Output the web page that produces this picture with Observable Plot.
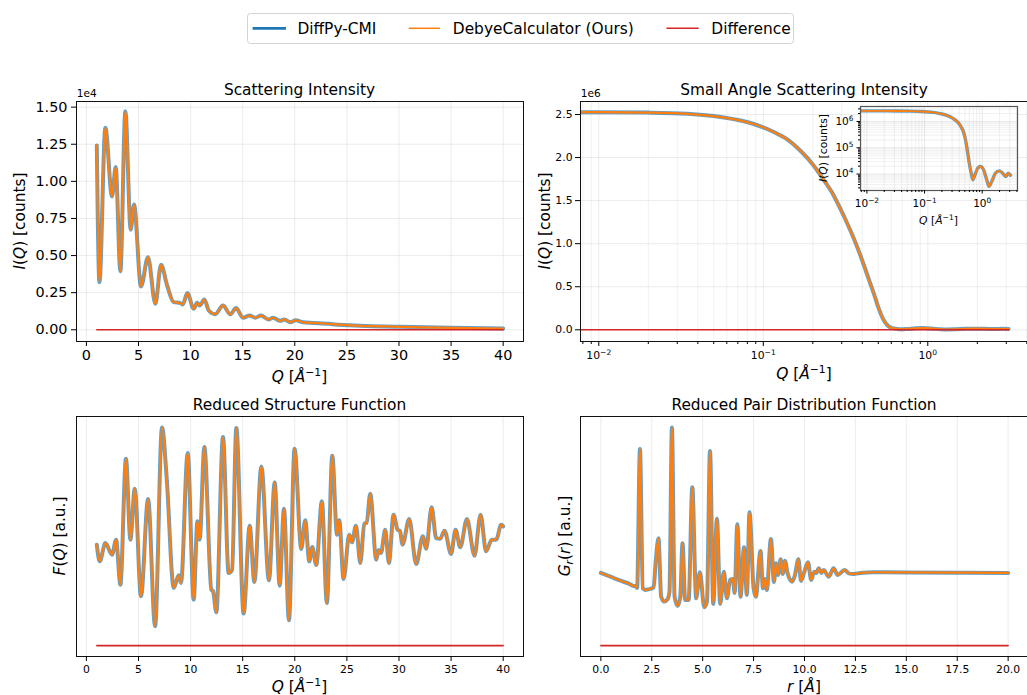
<!DOCTYPE html>
<html><head><meta charset="utf-8">
<script src="https://cdn.jsdelivr.net/npm/d3@7"></script>
<script src="https://cdn.jsdelivr.net/npm/@observablehq/plot@0.6"></script>
<style>
html,body{margin:0;padding:0;overflow:hidden;background:#fff;}
#root{position:relative;width:1027px;height:695px;overflow:hidden;background:#fff;}
#root svg{position:absolute;}
</style></head>
<body><div id="root"></div>
<script>
// ---------- DATA ----------
// Scattering intensity I(Q) [counts]
const iqQ = [1.0,1.25,1.82,2.46,2.81,3.26,3.74,4.25,4.57,5.24,5.91,6.62,7.16,7.74,8.38,9.02,9.25,9.69,10.3,10.62,10.87,11.32,11.74,12.37,13.11,13.81,14.36,15.03,15.67,16.21,16.76,17.49,17.9,18.61,19.0,19.57,20.1,20.8,21.8,22.6,23.3,23.9,25.3,27.5,30.1,35,40];
const iqI = [12420,3210,13610,8980,10960,3950,14730,6740,8440,2920,4890,1750,4380,3000,1860,1800,1700,2470,1410,1820,1630,2040,1300,1050,1640,1040,1460,810,960,810,960,690,810,600,700,510,640,500,460,430,400,360,300,240,200,130,80];
const iqDiffQ = [1, 10, 20, 30, 40];
const iqDiffI = [0, 0, 0, 0, 0];

// Small angle scattering intensity
const sasQ = [0.0077,0.01,0.02,0.0344,0.055,0.0875,0.115,0.14,0.17,0.2,0.235,0.268,0.295,0.323,0.355,0.39,0.43,0.47,0.505,0.54,0.57,0.6,0.65,0.69,0.75,0.85,0.93,1.05,1.2,1.31,1.45,1.7,1.96,2.25,2.56,2.81,3.1];
const sasI = [2.527e6,2.527e6,2.522e6,2.508e6,2.47e6,2.39e6,2.3e6,2.21e6,2.07e6,1.92e6,1.73e6,1.56e6,1.4e6,1.24e6,1.06e6,0.86e6,0.63e6,0.42e6,0.24e6,0.11e6,0.05e6,2.4e4,1.0e4,6.1e3,9.5e3,1.75e4,1.95e4,1.5e4,6.0e3,3.4e3,5.0e3,1.1e4,1.33e4,1.1e4,8.1e3,1.07e4,9.0e3];
const sasDiffQ = [0.0077, 0.1, 1, 3.1];
const sasDiffI = [0, 0, 0, 0];

// Reduced structure function F(Q) [a.u.]
const fqQ = [1.0,1.28,1.82,2.46,2.85,3.26,3.8,4.22,4.64,5.24,5.92,6.59,7.26,7.7,8.38,8.86,9.08,9.72,10.3,10.65,10.87,11.32,11.99,12.15,12.47,13.11,13.65,13.98,14.39,15.09,15.67,16.12,16.79,17.52,18.07,18.55,18.96,19.44,19.98,20.62,21.0,21.39,21.68,22.06,22.6,23.08,23.6,24.05,24.27,24.68,25.23,25.48,25.87,26.29,26.67,26.9,27.24,27.82,28.04,28.27,28.68,29.03,29.48,29.86,30.1,30.34,30.98,31.65,32.29,32.61,33.13,33.57,33.96,34.37,35.0,35.43,35.88,36.52,37.25,37.83,38.36,38.9,39.33,39.81,40.0];
const fqF = [0.24,-1.43,0.4,-0.76,0.74,-3.76,8.84,0.74,5.84,-4.93,4.8,-7.93,11.97,7.0,-4.1,-2.83,-3.6,9.4,-5.26,2.57,0.74,10.0,-4.26,-4.4,-6.53,11.0,-2.6,-2.3,11.9,-6.66,2.14,-3.5,8.07,-3.33,6.47,-3.86,3.84,-7.33,9.84,-0.2,2.67,-1.43,0.0,-1.8,4.57,-5.6,9.14,1.24,2.67,-3.2,1.24,0.47,2.14,-1.6,2.34,2.4,5.34,-1.26,-0.3,-0.6,1.74,-1.6,3.24,1.74,1.6,0.24,2.8,-1.7,1.07,-0.17,3.97,0.9,0.84,1.64,-0.7,1.74,-0.03,2.8,-0.86,3.24,-0.43,0.74,0.74,2.24,2.07];
const fqDiffQ = [1, 10, 20, 30, 40];
const fqDiffF = [-9.86, -9.86, -9.86, -9.86, -9.86];

// Reduced pair distribution function G_r(r) [a.u.]
const grR = [0,0.5,1.0,1.4,1.6,1.69,1.78,1.92,2.06,2.18,2.34,2.59,2.7,2.83,2.96,3.11,3.27,3.37,3.49,3.62,3.77,3.9,4.01,4.14,4.31,4.49,4.68,4.86,5.08,5.21,5.36,5.52,5.7,5.86,6.04,6.19,6.35,6.48,6.57,6.7,6.86,7.03,7.17,7.3,7.5,7.61,7.84,7.96,8.06,8.15,8.35,8.5,8.6,8.7,8.83,8.93,9.04,9.17,9.39,9.52,9.7,9.83,9.99,10.17,10.33,10.48,10.58,10.7,10.83,10.94,11.19,11.43,11.63,11.97,12.17,12.42,12.75,13.4,15,17.5,20];
const grG = [0,-0.4,-0.8,-1.1,-1.3,-1.3,-1.5,12.4,-1.54,-1.7,-1.64,-1.44,1.3,3.46,-2.37,-2.87,-2.64,-1.9,14.56,-2.37,-3.3,-2.37,2.96,-2.7,-2.7,8.56,-2.54,0.06,-3.44,-2.87,12.2,-3.1,5.43,-3.1,0.13,-2.54,-0.7,-0.6,-2.0,4.86,-2.37,2.56,-2.2,6.06,-1.54,-2.37,2.2,-1.54,-0.6,-1.7,3.4,-0.9,0.97,-0.2,1.36,-0.1,1.23,-0.04,-0.87,-0.3,1.36,-0.8,0.1,1.06,-0.7,0.13,0.0,0.46,0.0,0.3,-0.37,0.46,-0.2,0.3,-0.04,-0.1,0,0.07,0.05,0.03,0.0];
const grDiffR = [0, 5, 10, 15, 20];
const grDiffG = [-7.27, -7.27, -7.27, -7.27, -7.27];

// ticks
const iqTicksX = [0,5,10,15,20,25,30,35,40];
const iqTicksY = [0,2500,5000,7500,10000,12500,15000];
const sasTicksY = [0,0.5e6,1.0e6,1.5e6,2.0e6,2.5e6];
const logMajorX = [0.01,0.1,1];
const logMajorXLabels = ["10^−2","10^−1","10^0"];
const logMinorX = [0.008,0.009,0.02,0.03,0.04,0.05,0.06,0.07,0.08,0.09,0.2,0.3,0.4,0.5,0.6,0.7,0.8,0.9,2,3,4];
const insetMajorY = [1e4,1e5,1e6];
const insetMajorYLabels = ["10^4","10^5","10^6"];
const insetMinorY = [3e3,4e3,5e3,6e3,7e3,8e3,9e3,2e4,3e4,4e4,5e4,6e4,7e4,8e4,9e4,2e5,3e5,4e5,5e5,6e5,7e5,8e5,9e5,2e6,3e6];
const grTicksX = [0,2.5,5,7.5,10,12.5,15,17.5,20];
const seriesNames = ["DiffPy-CMI","DebyeCalculator (Ours)","Difference"];

// ---------- helpers ----------
const FS = "DejaVu Sans";
const BLUE = "#1f77b4", ORANGE = "#ff7f0e", RED = "#d62728";
const root = document.getElementById("root");
const tbl = (xs, ys) => xs.map((x, i) => ({x, y: ys[i]}));
const grid = (vals, op = 0.3) => [vals, {stroke: "#b0b0b0", strokeOpacity: op, strokeWidth: 0.8}];

function seriesMarks(data, diff, bw = 4, ow = 2.2) {
  const m = [
    Plot.line(data, {x: "x", y: "y", stroke: BLUE, strokeOpacity: 0.7, strokeWidth: bw, curve: "monotone-x", clip: true}),
    Plot.line(data, {x: "x", y: "y", stroke: ORANGE, strokeWidth: ow, curve: "monotone-x", clip: true})
  ];
  if (diff) m.push(Plot.line(diff, {x: "x", y: "y", stroke: RED, strokeWidth: 1.6, clip: true}));
  return m;
}
function supify(svg) {
  d3.select(svg).selectAll("text").each(function() {
    const t = this.textContent; const i = t.indexOf("^");
    if (i < 0) return;
    const s = d3.select(this);
    s.text(t.slice(0, i));
    s.append("tspan").attr("font-size", "0.7em").attr("dy", "-0.55em").text(t.slice(i + 1));
  });
}
function place(svg, left, top) {
  svg.style.left = left + "px"; svg.style.top = top + "px";
  svg.style.maxWidth = "none";
  root.appendChild(svg);
}
const baseStyle = (fs) => ({fontFamily: FS, fontSize: fs + "px", background: "none", overflow: "visible", color: "#000"});

// ---------- Panel 1: Scattering Intensity ----------
const p1 = Plot.plot({
  width: 530, height: 315, marginLeft: 76, marginRight: 7, marginTop: 26, marginBottom: 49,
  style: baseStyle(14.4),
  x: {domain: [-0.95, 41.95], label: null},
  y: {domain: [-790, 15380], label: null},
  marks: [
    Plot.gridX(...grid(iqTicksX)),
    Plot.gridY(...grid(iqTicksY)),
    ...seriesMarks(tbl(iqQ, iqI), tbl(iqDiffQ, iqDiffI)),
    Plot.frame({stroke: "#111", strokeWidth: 1}),
    Plot.axisX(iqTicksX, {tickSize: 5, tickPadding: 3, fontSize: 14.4, label: null, tickFormat: d => String(d)}),
    Plot.axisY(iqTicksY, {tickSize: 5, tickPadding: 4, fontSize: 14.4, label: null, tickFormat: d => (d / 1e4).toFixed(2)})
  ]
});
place(p1, 0, 75);

// ---------- Panel 2: Small Angle Scattering ----------
const p2 = Plot.plot({
  width: 520, height: 315, marginLeft: 60, marginRight: 12, marginTop: 26, marginBottom: 49,
  style: baseStyle(10.8),
  x: {type: "log", domain: [0.007741, 4.095], label: null},
  y: {domain: [-0.136e6, 2.651e6], label: null},
  marks: [
    Plot.gridX(...grid(logMinorX, 0.22)),
    Plot.gridX(...grid(logMajorX)),
    Plot.gridY(...grid(sasTicksY)),
    ...seriesMarks(tbl(sasQ, sasI), tbl(sasDiffQ, sasDiffI)),
    Plot.frame({stroke: "#111", strokeWidth: 1}),
    Plot.axisX(logMajorX, {tickSize: 5, tickPadding: 5, fontSize: 10.8, label: null, tickFormat: d => logMajorXLabels[logMajorX.indexOf(d)]}),
    Plot.axisX(logMinorX, {tickSize: 3, label: null, tickFormat: () => ""}),
    Plot.axisY(sasTicksY, {tickSize: 5, tickPadding: 3, fontSize: 10.8, label: null, tickFormat: d => (d / 1e6).toFixed(1)})
  ]
});
supify(p2);
place(p2, 520, 75);

// ---------- Inset (log-log) ----------
const pin = Plot.plot({
  width: 227, height: 130, marginLeft: 60, marginRight: 10, marginTop: 6, marginBottom: 40,
  style: baseStyle(10.5),
  x: {type: "log", domain: [0.007741, 4.095], label: null},
  y: {type: "log", domain: [2380, 3.7e6], label: null},
  marks: [
    Plot.frame({fill: "white", stroke: null}),
    Plot.gridX(...grid(logMinorX, 0.22)),
    Plot.gridX(...grid(logMajorX, 0.35)),
    Plot.gridY(...grid(insetMinorY, 0.22)),
    Plot.gridY(...grid(insetMajorY, 0.35)),
    ...seriesMarks(tbl(sasQ, sasI), null, 3.4, 1.9),
    Plot.frame({stroke: "#555", strokeWidth: 1.2}),
    Plot.axisX(logMajorX, {tickSize: 3.5, tickPadding: 5.5, fontSize: 10.5, label: null, tickFormat: d => logMajorXLabels[logMajorX.indexOf(d)]}),
    Plot.axisX(logMinorX, {tickSize: 2, label: null, tickFormat: () => ""}),
    Plot.axisY(insetMajorY, {tickSize: 3.5, tickPadding: 3.5, fontSize: 10.5, label: null, tickFormat: d => insetMajorYLabels[insetMajorY.indexOf(d)]}),
    Plot.axisY(insetMinorY, {tickSize: 2, label: null, tickFormat: () => ""})
  ]
});
supify(pin);

// ---------- Panel 3: Reduced Structure Function ----------
const p3 = Plot.plot({
  width: 530, height: 305, marginLeft: 76, marginRight: 7, marginTop: 26, marginBottom: 39,
  style: baseStyle(10.8),
  x: {domain: [-0.95, 41.95], label: null},
  y: {domain: [-10.95, 13.06], axis: null},
  marks: [
    Plot.gridX(...grid(iqTicksX)),
    ...seriesMarks(tbl(fqQ, fqF), tbl(fqDiffQ, fqDiffF)),
    Plot.frame({stroke: "#111", strokeWidth: 1}),
    Plot.axisX(iqTicksX, {tickSize: 5, tickPadding: 4, fontSize: 10.8, label: null, tickFormat: d => String(d)})
  ]
});
place(p3, 0, 390);

// ---------- Panel 4: Reduced Pair Distribution Function ----------
const p4 = Plot.plot({
  width: 520, height: 305, marginLeft: 60, marginRight: 12, marginTop: 26, marginBottom: 39,
  style: baseStyle(10.8),
  x: {domain: [-1, 21], label: null},
  y: {domain: [-8.36, 15.65], axis: null},
  marks: [
    Plot.gridX(...grid(grTicksX)),
    ...seriesMarks(tbl(grR, grG), tbl(grDiffR, grDiffG)),
    Plot.frame({stroke: "#111", strokeWidth: 1}),
    Plot.axisX(grTicksX, {tickSize: 5, tickPadding: 4, fontSize: 10.8, label: null, tickFormat: d => d.toFixed(1)})
  ]
});
place(p4, 520, 390);
place(pin, 800, 100);

// ---------- Overlay: titles, axis labels, legend ----------
const ov = d3.create("svg").attr("width", 1027).attr("height", 695)
  .style("left", "0px").style("top", "0px").style("pointer-events", "none");
function mtext(x, y, size, parts, rotate = 0, anchor = "middle") {
  const t = ov.append("text").attr("x", x).attr("y", y).attr("font-size", size)
    .attr("font-family", FS).attr("text-anchor", anchor).attr("fill", "#000");
  if (rotate) t.attr("transform", `rotate(${rotate} ${x} ${y})`);
  let shift = 0;
  for (const [s, st] of parts) {
    const ts = t.append("tspan").text(s);
    let target = 0;
    if (st.includes("sup")) target = -0.38 * size;
    if (st.includes("sub")) target = 0.22 * size;
    if (target !== shift) { ts.attr("dy", target - shift); shift = target; }
    if (target !== 0) ts.attr("font-size", size * 0.7);
    if (st.startsWith("i")) ts.attr("font-style", "italic");
  }
}
const T = 15.4;
mtext(299.5, 94.5, T, [["Scattering Intensity", ""]]);
mtext(804, 94.5, T, [["Small Angle Scattering Intensity", ""]]);
mtext(299.5, 410, T, [["Reduced Structure Function", ""]]);
mtext(804, 410, T, [["Reduced Pair Distribution Function", ""]]);
const qLabel = [["Q", "i"], [" [", ""], ["Å", "i"], ["−1", "sup"], ["]", ""]];
const iLabel = [["I", "i"], ["(", ""], ["Q", "i"], [")", ""], [" [counts]", ""]];
mtext(299.5, 381.5, T, qLabel);
mtext(804, 379, T, qLabel);
mtext(299.5, 691.5, T, qLabel);
mtext(804, 691.5, T, [["r", "i"], [" [", ""], ["Å", "i"], ["]", ""]]);
mtext(24.7, 221, T, iLabel, -90);
mtext(549.7, 221, T, iLabel, -90);
mtext(64.5, 536, T, [["F", "i"], ["(", ""], ["Q", "i"], [")", ""], [" [a.u.]", ""]], -90);
mtext(569.5, 536, T, [["G", "i"], ["r", "isub"], ["(", ""], ["r", "i"], [")", ""], [" [a.u.]", ""]], -90);
mtext(827, 148, 10.8, iLabel, -90);
mtext(938.5, 224, 10.8, qLabel);
mtext(76.7, 96.7, 10.6, [["1e4", ""]], 0, "start");
mtext(580.7, 97.3, 10.6, [["1e6", ""]], 0, "start");

// legend
ov.append("rect").attr("x", 247.5).attr("y", 13.5).attr("width", 546).attr("height", 30).attr("rx", 3)
  .attr("fill", "white").attr("fill-opacity", 0.8).attr("stroke", "#d3d3d3").attr("stroke-width", 1);
const legItems = [
  {name: seriesNames[0], color: BLUE, w: 2.8, x0: 252.6, x1: 286, tx: 297.4},
  {name: seriesNames[1], color: ORANGE, w: 1.5, x0: 408.7, x1: 440, tx: 452.8},
  {name: seriesNames[2], color: RED, w: 1.5, x0: 666.4, x1: 698.7, tx: 711.3}
];
for (const it of legItems) {
  ov.append("line").attr("x1", it.x0).attr("x2", it.x1).attr("y1", 28.3).attr("y2", 28.3)
    .attr("stroke", it.color).attr("stroke-width", it.w);
  mtext(it.tx, 33.8, T, [[it.name, ""]], 0, "start");
}
root.appendChild(ov.node());
</script>
</body></html>
